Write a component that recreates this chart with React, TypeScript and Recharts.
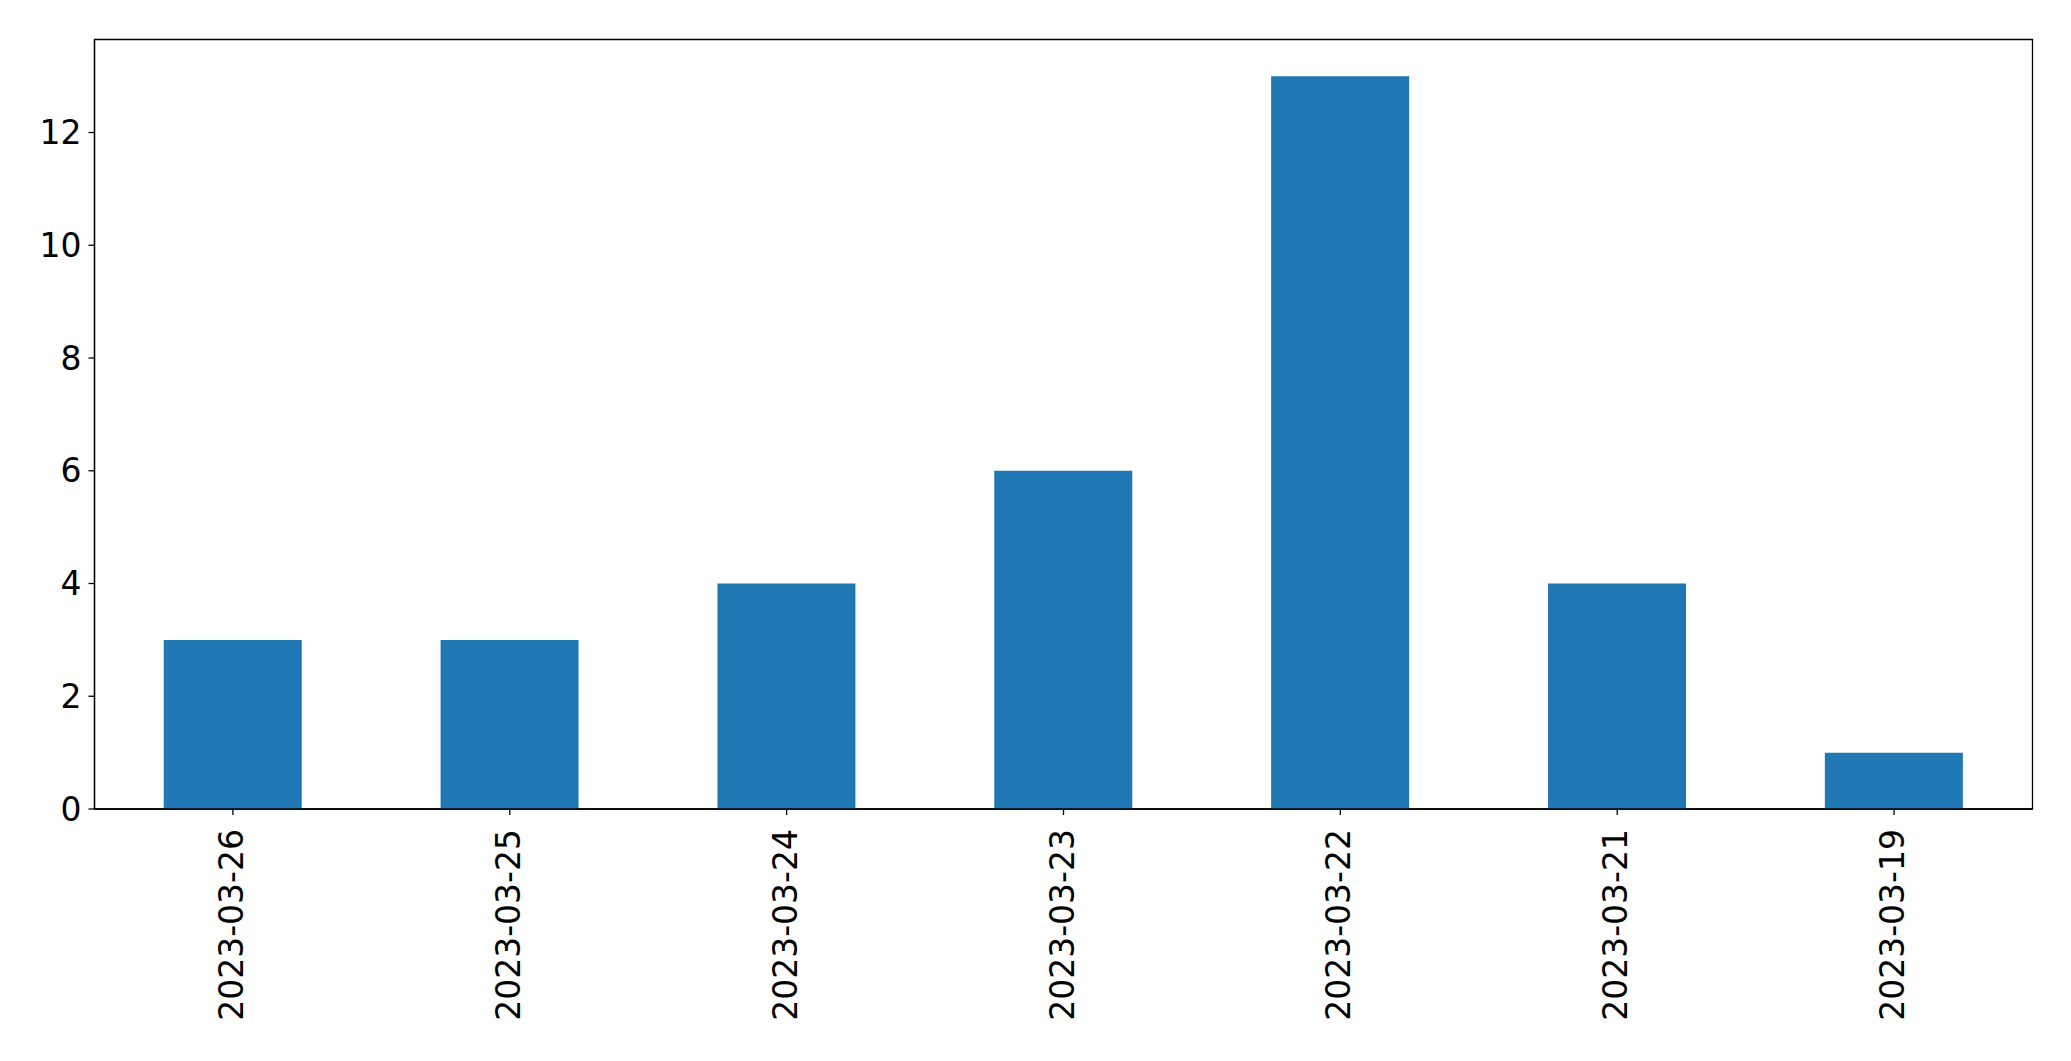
import React from "react";
import { BarChart, Bar, XAxis, YAxis, ReferenceArea } from "recharts";

const categories = ["2023-03-26", "2023-03-25", "2023-03-24", "2023-03-23", "2023-03-22", "2023-03-21", "2023-03-19"];
const counts = [3, 3, 4, 6, 13, 4, 1];
const yTicks = [0, 2, 4, 6, 8, 10, 12];

const data = categories.map((c, i) => ({ date: c, count: counts[i] }));

const FONT = "DejaVu Sans";
const FS = 33;
const Y_MAX = 13.65;

const XTick = (props: any) => {
  const { x, y, payload } = props;
  const ty = y + 12;
  return (
    <text
      x={x}
      y={ty}
      dy={10}
      transform={`rotate(-90, ${x}, ${ty})`}
      textAnchor="end"
      fontFamily={FONT}
      fontSize={FS}
      fill="#000"
    >
      {payload.value}
    </text>
  );
};

export default function App() {
  return (
    <div style={{ position: "absolute", left: 0, top: 0, background: "#fff" }}>
      <BarChart
        width={2071}
        height={1061}
        data={data}
        margin={{ top: 39.5, right: 38.5, left: 0, bottom: 0 }}
        barCategoryGap="25%"
      >
        <XAxis
          dataKey="date"
          xAxisId="main"
          height={252}
          interval={0}
          tick={<XTick />}
          tickSize={6}
          axisLine={{ stroke: "#000", strokeWidth: 1.3 }}
          tickLine={{ stroke: "#000", strokeWidth: 1.3 }}
        />
        <YAxis
          yAxisId="main"
          type="number"
          domain={[0, Y_MAX]}
          ticks={yTicks}
          allowDataOverflow
          width={94.5}
          tickSize={6}
          tickMargin={7}
          tick={{ fill: "#000", fontSize: FS, fontFamily: FONT }}
          axisLine={{ stroke: "#000", strokeWidth: 1.3 }}
          tickLine={{ stroke: "#000", strokeWidth: 1.3 }}
        />
        <Bar dataKey="count" xAxisId="main" yAxisId="main" fill="#1f77b4" isAnimationActive={false} />
        <ReferenceArea
          xAxisId="main"
          yAxisId="main"
          y1={0}
          y2={Y_MAX}
          fill="none"
          fillOpacity={0}
          stroke="#000"
          strokeWidth={1.3}
          strokeOpacity={1}
          ifOverflow="visible"
        />
      </BarChart>
    </div>
  );
}
